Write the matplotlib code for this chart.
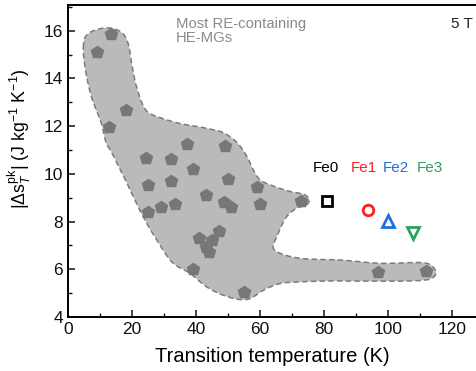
import numpy as np
import matplotlib
matplotlib.use("Agg")
import matplotlib.pyplot as plt
from matplotlib.ticker import MultipleLocator

plt.rcParams["font.family"] = ["Liberation Sans", "DejaVu Sans"]
plt.rcParams["mathtext.fontset"] = "custom"
plt.rcParams["mathtext.rm"] = "Liberation Sans"
plt.rcParams["mathtext.it"] = "Liberation Sans:italic"
plt.rcParams["mathtext.bf"] = "Liberation Sans:bold"

# Literature RE-containing HE-MGs: transition temperature (K), |dS_pk| (J/kg/K)
lit_T = [13.4, 8.96, 18.1, 12.9, 37.1, 49.1, 24.3, 32.2, 39.0, 50.1,
         59.0, 24.9, 32.2, 43.0, 48.75, 50.9, 60.0, 25.1, 29.0, 33.5,
         47.2, 41.0, 44.9, 43.0, 44.2, 39.0, 55.0, 72.8, 97.0, 111.9]
lit_S = [15.86, 15.11, 12.66, 11.97, 11.26, 11.16, 10.67, 10.63, 10.22, 9.78,
         9.45, 9.52, 9.71, 9.12, 8.82, 8.63, 8.73, 8.42, 8.60, 8.73,
         7.61, 7.32, 7.23, 6.95, 6.74, 6.01, 5.05, 8.87, 5.89, 5.94]

# Envelope around the literature cloud (T, |dS|), traced clockwise
region_T = [4.78, 5.31, 6.88, 11.03, 14.69, 17.28, 18.84, 19.91, 21.47, 24.59,
            28.75, 35.0, 42.19, 48.44, 52.81, 55.94, 57.81, 60.0, 63.13, 69.38,
            74.06, 75.41, 74.59, 71.47, 68.34, 65.72, 64.16, 66.25, 72.5, 85.0,
            97.5, 112.09, 114.06, 115.0, 113.66, 110.94, 97.5, 81.88, 72.5, 66.25,
            61.03, 56.88, 53.75, 48.53, 43.34, 38.13, 32.81, 27.72, 23.44, 18.34,
            13.13, 12.09, 10.53, 7.41, 5.31]
region_S = [15.30, 15.72, 15.93, 16.11, 16.07, 15.86, 15.44, 14.60, 13.62, 12.63,
            12.36, 12.11, 11.94, 11.73, 11.31, 10.72, 10.18, 9.75, 9.54, 9.26,
            9.12, 8.91, 8.70, 8.56, 8.21, 7.51, 6.88, 6.67, 6.46, 6.39,
            6.25, 6.25, 6.10, 5.83, 5.62, 5.54, 5.50, 5.51, 5.47, 5.40,
            5.12, 4.77, 4.73, 4.91, 5.26, 5.83, 6.26, 7.23, 8.21, 9.63,
            11.02, 11.23, 12.07, 13.19, 14.46]

# This work
samples = ["Fe0", "Fe1", "Fe2", "Fe3"]
sample_T = [81.0, 93.85, 99.9, 107.9]
sample_S = [8.88, 8.49, 8.03, 7.53]
sample_colors = ["#000000", "#ff2020", "#1f6fe0", "#2ca25f"]
sample_markers = ["s", "o", "^", "v"]
sample_sizes = [6.8, 7.6, 8.5, 8.5]
label_T = [80.7, 92.3, 102.4, 113.1]
label_S = 10.23


def closed_catmull_rom(x, y, n=20, sx=3.2, sy=23.85):
    """Smooth closed curve through the given vertices (centripetal Catmull-Rom)."""
    p = np.column_stack([np.asarray(x) * sx, np.asarray(y) * sy])
    m = len(p)
    out = []
    for i in range(m):
        p0, p1, p2, p3 = p[(i - 1) % m], p[i], p[(i + 1) % m], p[(i + 2) % m]
        t0 = 0.0
        t1 = t0 + np.linalg.norm(p1 - p0) ** 0.5
        t2 = t1 + np.linalg.norm(p2 - p1) ** 0.5
        t3 = t2 + np.linalg.norm(p3 - p2) ** 0.5
        t = np.linspace(t1, t2, n, endpoint=False)[:, None]
        a1 = (t1 - t) / (t1 - t0) * p0 + (t - t0) / (t1 - t0) * p1
        a2 = (t2 - t) / (t2 - t1) * p1 + (t - t1) / (t2 - t1) * p2
        a3 = (t3 - t) / (t3 - t2) * p2 + (t - t2) / (t3 - t2) * p3
        b1 = (t2 - t) / (t2 - t0) * a1 + (t - t0) / (t2 - t0) * a2
        b2 = (t3 - t) / (t3 - t1) * a2 + (t - t1) / (t3 - t1) * a3
        c = (t2 - t) / (t2 - t1) * b1 + (t - t1) / (t2 - t1) * b2
        out.append(c)
    c = np.vstack(out + [out[0][:1]])
    return c[:, 0] / sx, c[:, 1] / sy


fig = plt.figure(figsize=(4.77, 3.71), dpi=100)
ax = fig.add_axes([0.1426, 0.1456, 0.8574, 0.841])

cx, cy = closed_catmull_rom(region_T, region_S)
ax.fill(cx, cy, facecolor="#bababa", edgecolor="none", zorder=1)
ax.plot(cx, cy, color="#7a7a7a", lw=1.1, ls=(0, (3.5, 2.2)), zorder=2)

ax.plot(lit_T, lit_S, ls="none", marker="p", ms=9, color="#777777",
        mec="#777777", zorder=3)

for name, t, s, c, m, ms, lt in zip(samples, sample_T, sample_S, sample_colors,
                                    sample_markers, sample_sizes, label_T):
    ax.plot([t], [s], ls="none", marker=m, ms=ms,
            mfc="none", mec=c, mew=2.0, zorder=4)
    ax.text(lt, label_S, name, color=c, fontsize=11, ha="center", va="center")

ax.text(0.263, 0.962, "Most RE-containing\nHE-MGs", transform=ax.transAxes,
        color="#8a8a8a", fontsize=10.7, ha="left", va="top", linespacing=1.0)
ax.text(0.99, 0.94, "5 T", transform=ax.transAxes, color="#222222",
        fontsize=11, ha="right", va="center")

ax.set_xlim(0, 127.8)
ax.set_ylim(4, 17.08)
ax.xaxis.set_major_locator(MultipleLocator(20))
ax.xaxis.set_minor_locator(MultipleLocator(10))
ax.yaxis.set_major_locator(MultipleLocator(2))
ax.yaxis.set_minor_locator(MultipleLocator(1))
ax.tick_params(which="both", direction="in", labelsize=12.5, colors="#111111")
ax.tick_params(which="major", length=5, width=1.1)
ax.tick_params(which="minor", length=3, width=1.0)
for sp in ax.spines.values():
    sp.set_linewidth(1.4)

ax.set_xlabel("Transition temperature (K)", fontsize=14.5, labelpad=7)
ax.set_ylabel(r"$|\Delta \mathrm{s}^{\mathrm{pk}}_{T}|$ (J kg$^{-1}$ K$^{-1}$)",
              fontsize=12.8)
ax.yaxis.set_label_coords(-0.086, 0.57)

fig.savefig("out.png", dpi=100)
